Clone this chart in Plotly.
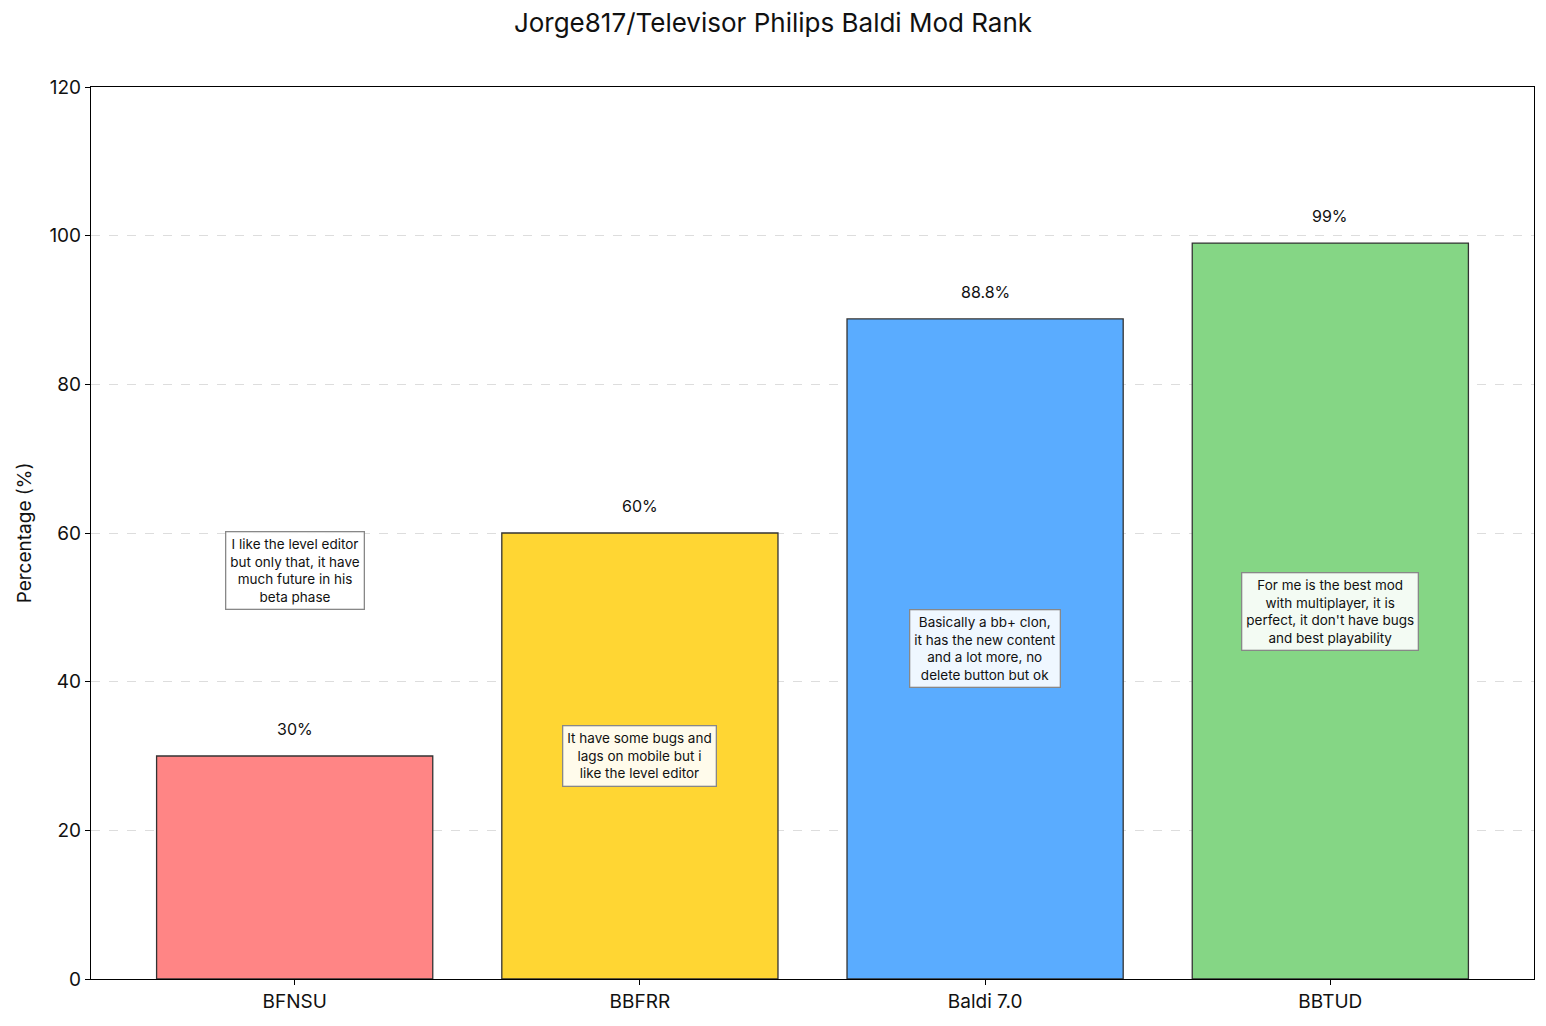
import plotly.graph_objects as go

categories = ["BFNSU", "BBFRR", "Baldi 7.0", "BBTUD"]
values = [30, 60, 88.8, 99]
value_labels = ["30%", "60%", "88.8%", "99%"]
comments = [
    "I like the level editor<br>but only that, it have<br>much future in his<br>beta phase",
    "It have some bugs and<br>lags on mobile but i<br>like the level editor",
    "Basically a bb+ clon,<br>it has the new content<br>and a lot more, no<br>delete button but ok",
    "For me is the best mod<br>with multiplayer, it is<br>perfect, it don't have bugs<br>and best playability",
]
colors = ["#FF8585", "#FFD633", "#5AACFF", "#85D685"]
y_ticks = [0, 20, 40, 60, 80, 100, 120]

FONT = "Inter, Lato, Roboto, sans-serif"

fig = go.Figure()
fig.add_trace(go.Bar(
    x=list(range(len(categories))),
    y=values,
    width=0.8,
    marker=dict(color=colors, line=dict(color="#333333", width=1.3)),
    hoverinfo="skip",
))

for i, (v, lab, com) in enumerate(zip(values, value_labels, comments)):
    fig.add_annotation(x=i, y=v + 2, text=lab, showarrow=False, yanchor="bottom",
                       font=dict(size=16, color="#111111", family=FONT))
    cy = v + 25 if v < 40 else v / 2
    fig.add_annotation(x=i, y=cy, text=com, showarrow=False, yanchor="middle",
                       align="center",
                       font=dict(size=13.5, color="#111111", family=FONT),
                       bgcolor="rgba(255,255,255,0.9)", bordercolor="#888888",
                       borderwidth=1.3, borderpad=4)

fig.update_layout(
    width=1546, height=1026,
    margin=dict(l=91, r=12, t=87, b=47),
    paper_bgcolor="white", plot_bgcolor="white",
    showlegend=False,
    font=dict(family=FONT, color="#111111"),
    title=dict(text="Jorge817/Televisor Philips Baldi Mod Rank", x=0.5, xanchor="center",
               y=1 - 23 / 1026, yanchor="middle", font=dict(size=26, family=FONT, color="#111111")),
    bargap=0.2,
)
fig.update_xaxes(
    tickmode="array", tickvals=list(range(len(categories))), ticktext=categories,
    range=[-0.59, 3.59], showline=True, linecolor="black", linewidth=1.2, mirror=True,
    ticks="outside", ticklen=5, tickcolor="black", showgrid=False,
    tickfont=dict(size=19, family=FONT), zeroline=False,
)
fig.update_yaxes(
    range=[0, 120], tickvals=y_ticks, showline=True, linecolor="black", linewidth=1.2,
    mirror=True, ticks="outside", ticklen=5, tickcolor="black",
    showgrid=True, gridcolor="#dddddd", griddash="dash", gridwidth=1,
    tickfont=dict(size=19, family=FONT), zeroline=False,
    title=dict(text="Percentage (%)", font=dict(size=19, family=FONT), standoff=12),
)

fig.write_html("out.html", config={"displayModeBar": False},
               post_script="document.body.style.margin='0';")
